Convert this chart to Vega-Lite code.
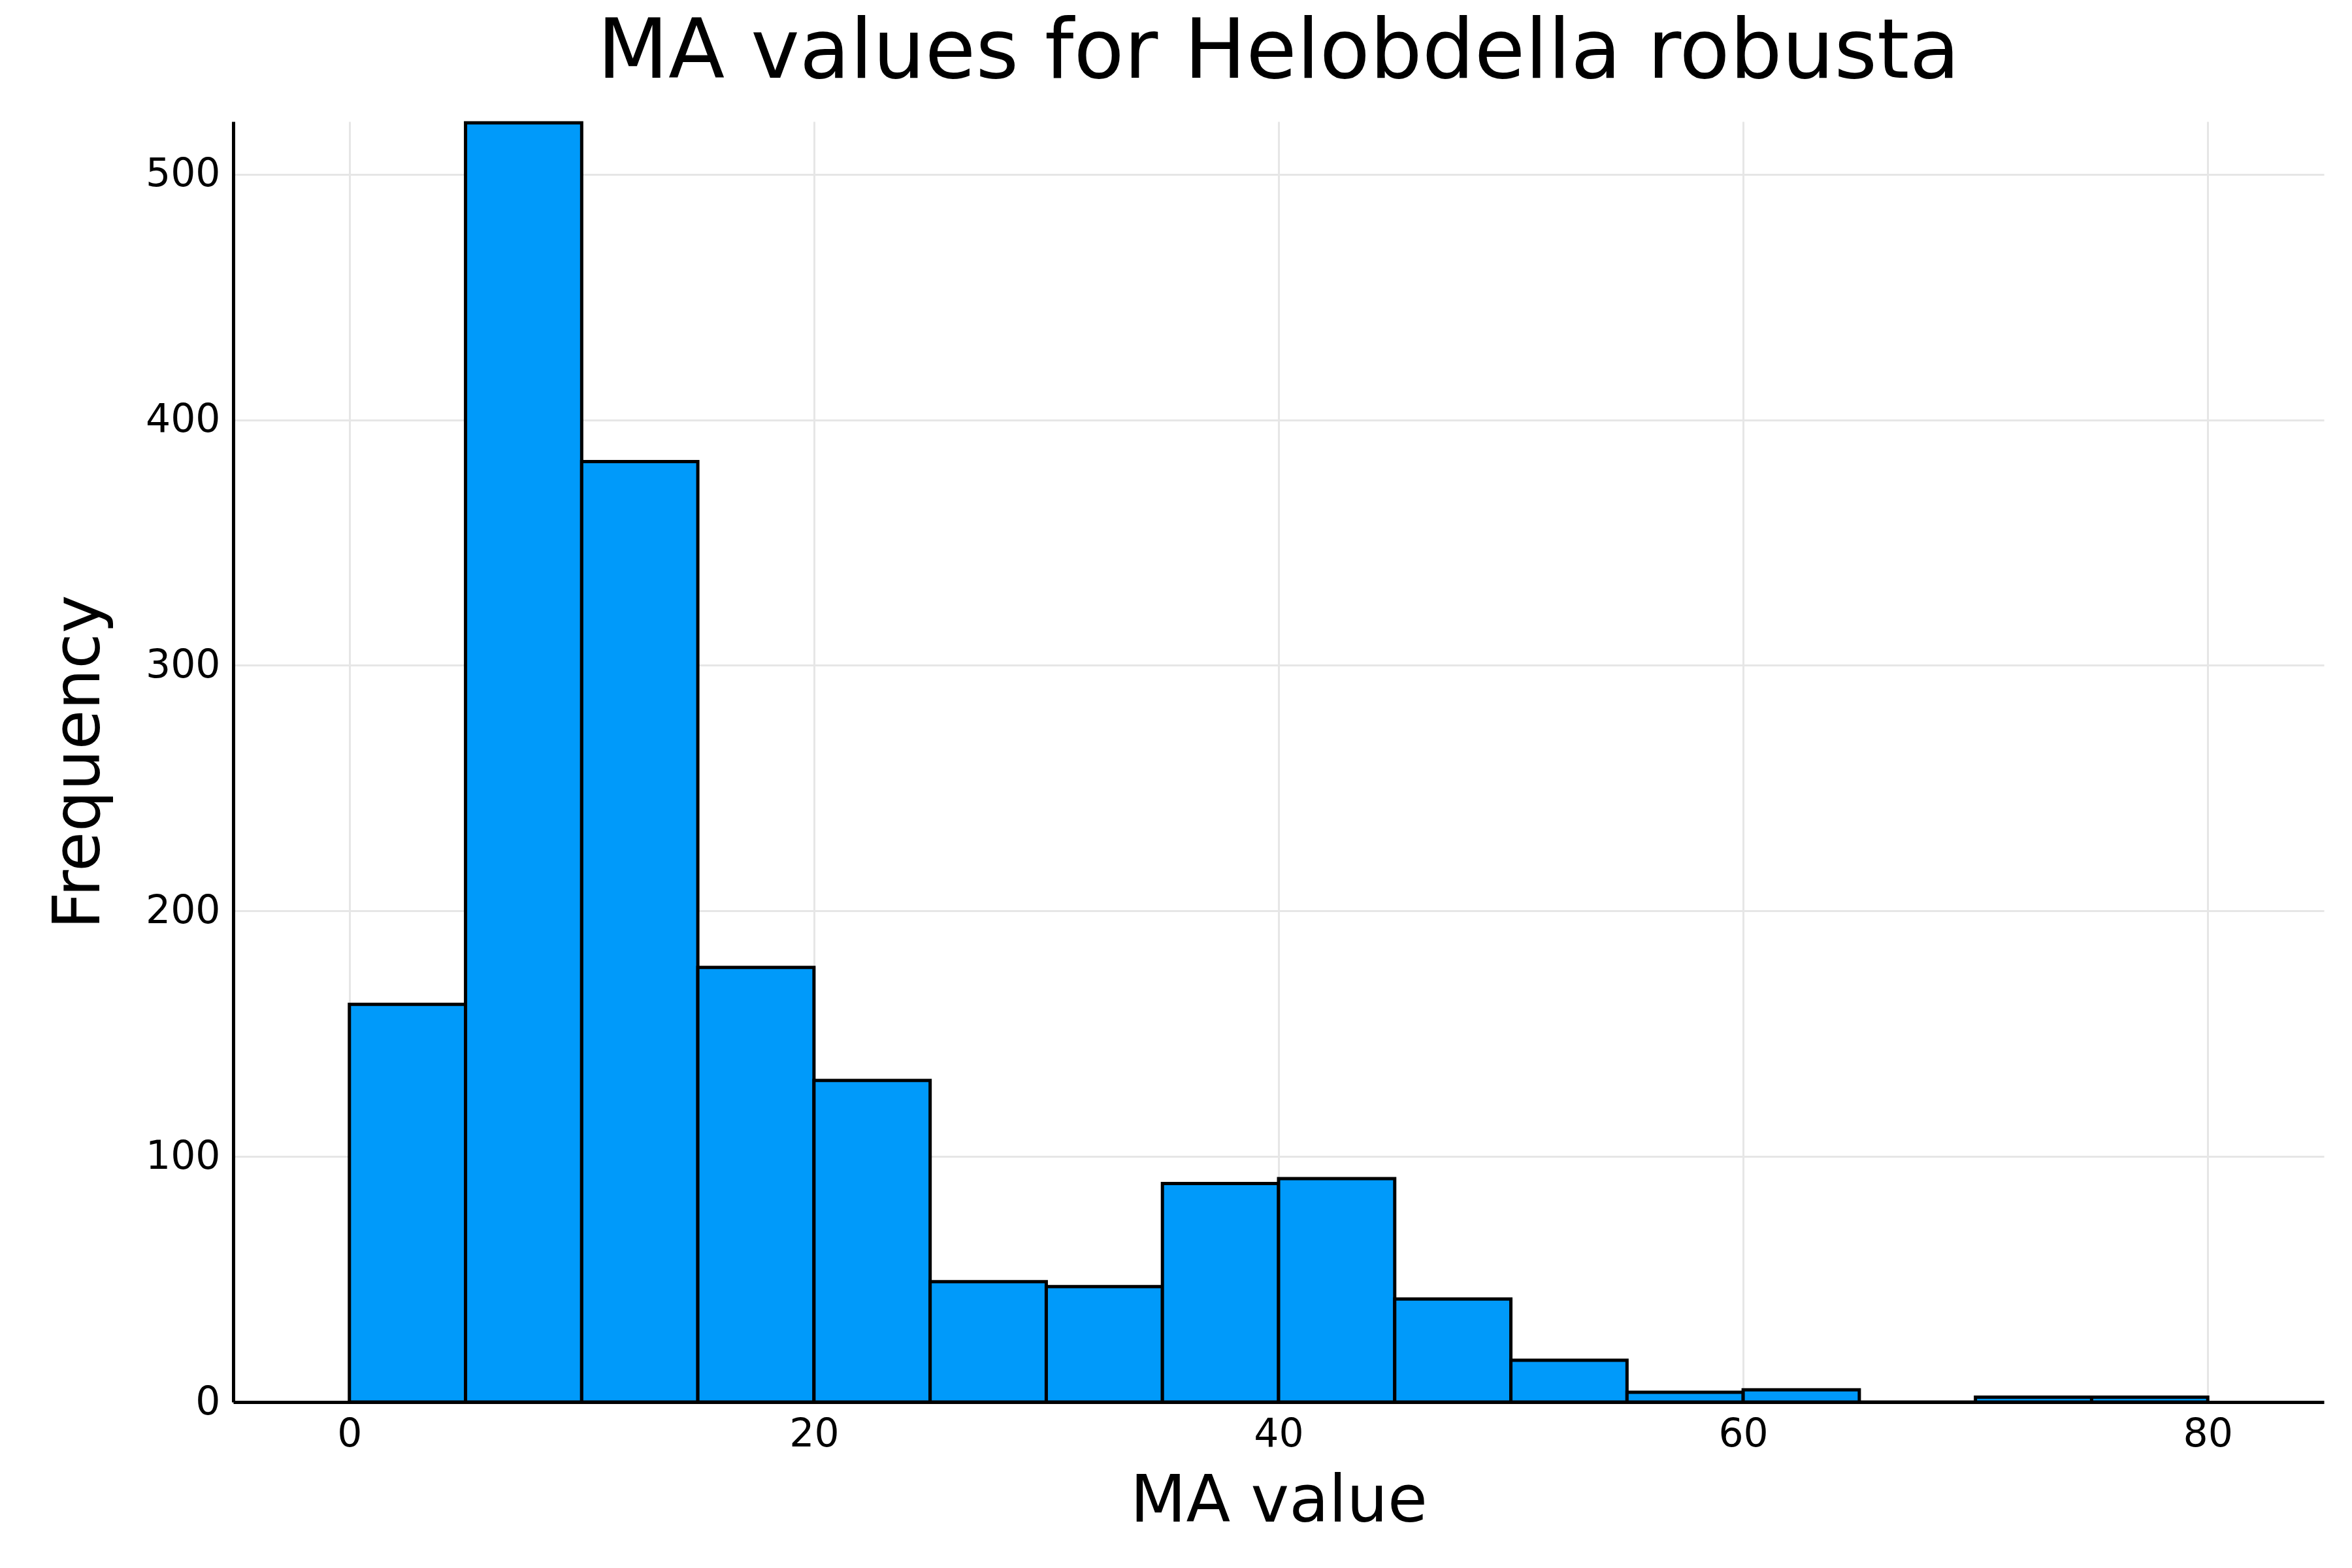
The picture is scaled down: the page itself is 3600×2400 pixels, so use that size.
{
"$schema":"https://vega.github.io/schema/vega-lite/v6.json",
"width":3200,"height":1960,
"autosize":{"type":"none"},
"padding":{"left":357,"top":186,"right":43,"bottom":254},
"background":"white",
"config":{"view":{"stroke":null},"font":"DejaVu Sans"},
"title":{"text":"MA values for Helobdella robusta","fontSize":126,"fontWeight":"normal","font":"DejaVu Sans","color":"black","offset":40},
"data":{"values":[
{"a":0,"b":5,"n":162},{"a":5,"b":10,"n":521},{"a":10,"b":15,"n":383},{"a":15,"b":20,"n":177},
{"a":20,"b":25,"n":131},{"a":25,"b":30,"n":49},{"a":30,"b":35,"n":47},{"a":35,"b":40,"n":89},
{"a":40,"b":45,"n":91},{"a":45,"b":50,"n":42},{"a":50,"b":55,"n":17},{"a":55,"b":60,"n":4},
{"a":60,"b":65,"n":5},{"a":65,"b":70,"n":0},{"a":70,"b":75,"n":2},{"a":75,"b":80,"n":2}]},
"mark":{"type":"rect","fill":"#009AFA","stroke":"black","strokeWidth":5},
"encoding":{
"x":{"field":"a","type":"quantitative","scale":{"domain":[-5,85],"nice":false,"zero":false},
"axis":{"title":"MA value","values":[0,20,40,60,80],"titleFontSize":99,"titleFontWeight":"normal","titleColor":"black","titlePadding":25,"labelFontSize":60,"labelColor":"black","labelPadding":20,"domainColor":"black","domainWidth":5,"tickColor":"black","tickSize":0,"gridColor":"#e6e6e6","gridWidth":3}},
"x2":{"field":"b"},
"y":{"field":"n","type":"quantitative","scale":{"domain":[0,521.5],"nice":false},
"axis":{"title":"Frequency","values":[0,100,200,300,400,500],"titleFontSize":99,"titleFontWeight":"normal","titleColor":"black","titlePadding":50,"labelFontSize":60,"labelColor":"black","labelPadding":20,"domainColor":"black","domainWidth":5,"tickColor":"black","tickSize":0,"gridColor":"#e6e6e6","gridWidth":3}},
"y2":{"datum":0}
}
}
